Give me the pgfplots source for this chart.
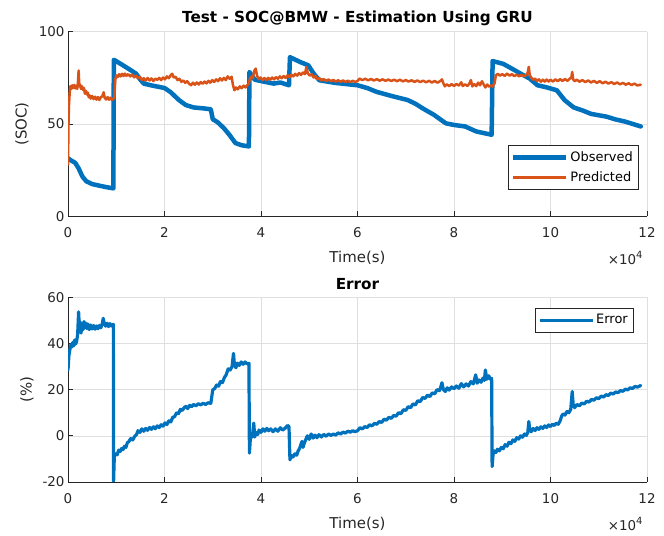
\documentclass[border=0pt]{standalone}
\usepackage{fontspec}
\setmainfont{DejaVu Sans}
\usepackage{pgfplots}
\pgfplotsset{compat=1.18}
\definecolor{mblue}{RGB}{0,114,189}
\definecolor{morange}{RGB}{217,83,25}
\definecolor{axgray}{RGB}{38,38,38}
\definecolor{gridgray}{RGB}{223,223,223}
\pgfplotsset{
  myax/.style={
    width=579bp, height=184.7bp, scale only axis,
    axis x line*=bottom, axis y line*=left,
    xmin=0, xmax=12, xtick={0,2,...,12},
    tick align=inside, major tick length=5bp,
    grid=major, major grid style={gridgray, line width=0.6bp},
    axis line style={axgray, line width=0.7bp},
    every tick/.style={axgray, line width=0.7bp},
    ticklabel style={font=\fontsize{13.5}{13.5}\selectfont, text=axgray},
    xticklabel style={yshift=-8bp},
    /pgf/number format/assume math mode=true,
    xlabel={Time(s)},
    xlabel style={at={(axis description cs:0.5,0)}, anchor=base, yshift=-46bp, font=\fontsize{15}{15}\selectfont, text=axgray},
    ylabel style={anchor=center, font=\fontsize{15}{15}\selectfont, text=axgray},
    title style={at={(axis description cs:0.5,1)}, anchor=base, font=\bfseries\fontsize{15.3}{15.3}\selectfont, text=black},
    legend cell align=left,
    legend style={draw=axgray, line width=0.5bp, fill=white, font=\fontsize{13}{13}\selectfont,
      inner xsep=3bp, inner ysep=2bp,
      nodes={inner xsep=2bp, inner ysep=3.5bp, text height=10bp, text depth=3bp}},
    legend image code/.code={\draw[#1, line cap=butt] (0bp,0bp) -- (53bp,0bp);},
    every axis plot/.append style={line join=round, line cap=round},
    after end axis/.append code={
      \node[anchor=base east, font=\fontsize{13.5}{13.5}\selectfont, text=axgray] at (rel axis cs:1,0) [xshift=-1bp, yshift=-48.6bp] {×10\raisebox{0.45em}{\fontsize{10}{10}\selectfont 4}};
    },
  }
}
\begin{document}
\begin{tikzpicture}
\useasboundingbox (0bp,0bp) rectangle (664bp,536bp);
\begin{axis}[myax, at={(68bp,319.6bp)}, anchor=south west,
  ymin=0, ymax=100, ytick={0,50,100},
  ylabel={(SOC)}, ylabel style={at={(axis description cs:-0.0794,0.5)}},
  title={Test - SOC@BMW - Estimation Using GRU}, title style={yshift=3.7bp},
  legend style={at={(rel axis cs:1,0)}, anchor=south east, xshift=-9bp, yshift=26.4bp}]
\addplot[mblue, line width=4.5bp] coordinates {
(0,31.5)(0.05,30.5)(0.15,29)(0.22,26)(0.3,21.5)(0.38,19)(0.5,17.5)(0.62,16.8)(0.8,15.8)(0.94,15.2)(0.95,84.8)(1.09,82.6)(1.25,80)(1.41,77.3)(1.5,74)(1.57,71.9)(1.75,70.8)(1.89,70.1)(2.0,69.5)(2.12,67.4)(2.3,63)(2.44,60.3)(2.6,59)(2.8,58.5)(2.96,58)(3.0,52.6)(3.1,51)(3.23,47.8)(3.35,44)(3.47,39.7)(3.6,38.5)(3.75,37.9)(3.76,78.2)(3.87,74)(4.05,73)(4.26,71.9)(4.4,72.5)(4.58,71)(4.6,86.2)(4.82,83.5)(4.98,81.8)(5.1,77)(5.21,73.7)(5.53,72.3)(6.0,71)(6.2,69.5)(6.4,67.4)(6.72,65.1)(7.04,63)(7.2,61)(7.35,58.5)(7.59,54.9)(7.83,50.4)(8.0,49.5)(8.23,48.7)(8.46,46)(8.6,45.2)(8.78,44.2)(8.8,84.1)(9.02,82.6)(9.26,79.1)(9.4,77)(9.57,74.6)(9.73,71)(9.9,70)(10.13,68.3)(10.29,63)(10.48,59)(10.65,57.5)(10.84,55.5)(11.16,54)(11.35,52.5)(11.55,51.3)(11.87,48.7)
};
\addlegendentry{Observed}
\addplot[morange, line width=2.5bp] coordinates {
(0,28)(0.01,50)(0.02,60)(0.035,67)(0.05,70.5)(0.07,69)(0.09,71)(0.11,69.5)(0.13,71.2)(0.15,69.3)(0.17,70.8)(0.19,69)(0.205,72)(0.22,79)(0.235,70.5)(0.25,71.5)(0.27,69)(0.29,70.5)(0.31,68.5)(0.33,69.5)(0.35,66.5)(0.37,68)(0.39,66)(0.41,67)(0.43,64.5)(0.45,65.5)(0.47,63.8)(0.5,65.2)(0.53,63.5)(0.56,64.8)(0.59,63.2)(0.62,64.6)(0.65,63)(0.68,64.5)(0.71,65)(0.74,67.2)(0.76,64.2)(0.79,63.3)(0.82,64.6)(0.85,63.2)(0.88,64.3)(0.91,63)(0.94,63.8)(0.96,64)(0.98,74)(1.0,76.4)(1.03,75.4)(1.06,77)(1.09,75.8)(1.12,77.2)(1.15,76)(1.18,77.3)(1.21,76.1)(1.25,77)(1.29,75.8)(1.33,76.8)(1.37,75.3)(1.41,76.2)(1.45,74.8)(1.49,75.6)(1.53,73.8)(1.57,74.8)(1.61,73.5)(1.65,74.9)(1.69,73.6)(1.73,74.7)(1.77,73.3)(1.81,74.6)(1.85,73.9)(1.89,75)(1.93,73.8)(1.97,75.2)(2.01,74.2)(2.05,75.8)(2.09,74.8)(2.13,76.5)(2.16,77.2)(2.19,75.2)(2.23,75.6)(2.27,73.8)(2.31,74.5)(2.35,72.8)(2.39,73.6)(2.43,72.3)(2.47,73.2)(2.51,71.8)(2.55,71)(2.59,72.4)(2.63,71.3)(2.67,72.5)(2.71,71.4)(2.75,72.7)(2.79,71.8)(2.83,73)(2.87,72)(2.91,73.4)(2.95,72.4)(2.99,73.8)(3.03,72.8)(3.07,74.2)(3.11,73.2)(3.15,74.8)(3.19,73.6)(3.23,75)(3.27,73.8)(3.31,75.8)(3.35,74.5)(3.39,75.6)(3.42,71)(3.45,68.3)(3.48,69.8)(3.52,68.8)(3.56,70.4)(3.6,69.4)(3.64,70.8)(3.68,69.8)(3.72,71.2)(3.75,72)(3.77,74.6)(3.8,75.6)(3.83,74.8)(3.86,78.8)(3.89,80)(3.92,76)(3.95,74.4)(3.99,75.2)(4.03,73.8)(4.07,74.9)(4.11,73.9)(4.15,75)(4.19,74)(4.23,75.2)(4.27,74.2)(4.31,75.4)(4.35,74.5)(4.39,75.8)(4.43,74.8)(4.47,76)(4.51,75)(4.55,76.4)(4.59,75.3)(4.63,76.8)(4.67,75.8)(4.71,77.2)(4.75,76.2)(4.79,77.6)(4.83,76.6)(4.87,77.9)(4.91,77)(4.94,80.9)(4.97,77.5)(5.01,76.2)(5.05,77)(5.09,75.2)(5.13,76)(5.17,74.3)(5.21,74.9)(5.25,73.6)(5.3,74.3)(5.35,73.4)(5.4,74.1)(5.45,73.2)(5.5,73.9)(5.55,73)(5.6,73.7)(5.65,72.9)(5.7,73.6)(5.75,72.8)(5.8,73.5)(5.85,72.7)(5.9,73.4)(5.95,72.8)(6.0,73.3)(6.04,74.6)(6.1,73.8)(6.16,74.5)(6.22,73.7)(6.28,74.4)(6.34,73.6)(6.4,74.3)(6.46,73.5)(6.52,74.2)(6.58,73.4)(6.64,74.1)(6.7,73.3)(6.76,74)(6.82,73.2)(6.88,74)(6.94,73.1)(7.0,73.8)(7.06,73)(7.12,73.7)(7.18,72.8)(7.24,73.6)(7.3,72.7)(7.36,73.5)(7.42,72.6)(7.48,73.4)(7.54,72.5)(7.6,73.3)(7.66,72.4)(7.72,73.4)(7.75,74.2)(7.78,72)(7.81,70.4)(7.85,71.5)(7.9,70.6)(7.95,71.6)(8.0,70.6)(8.05,71.7)(8.1,70.8)(8.15,72.6)(8.18,70.6)(8.23,71.5)(8.28,70.6)(8.32,72)(8.35,73.8)(8.38,70.4)(8.42,71.6)(8.46,70.5)(8.5,72.4)(8.54,71)(8.58,73.2)(8.62,71.2)(8.65,69.8)(8.69,71.4)(8.73,70.2)(8.77,71)(8.8,70.3)(8.84,72)(8.87,76.5)(8.91,77.2)(8.95,76.2)(9.0,77)(9.05,76.1)(9.1,77.3)(9.15,76.2)(9.2,77)(9.25,75.9)(9.3,76.8)(9.35,75.8)(9.4,76.7)(9.45,75.9)(9.5,76.6)(9.53,78)(9.55,81)(9.57,76.5)(9.6,75.2)(9.64,74)(9.68,74.6)(9.72,73.3)(9.76,74.2)(9.8,72.9)(9.84,74)(9.88,73)(9.92,74.1)(9.96,73)(10.0,74)(10.05,73)(10.1,74.2)(10.15,73.2)(10.2,74.3)(10.25,73.3)(10.3,74.4)(10.35,73.4)(10.4,74.6)(10.43,75)(10.45,78.2)(10.47,74.2)(10.5,73.2)(10.55,74)(10.6,72.9)(10.66,73.8)(10.72,72.7)(10.78,73.6)(10.84,72.5)(10.9,73.4)(10.96,72.3)(11.02,73.2)(11.08,72.1)(11.14,72.9)(11.2,71.9)(11.26,72.7)(11.32,71.7)(11.38,72.5)(11.44,71.5)(11.5,72.3)(11.56,71.3)(11.62,72.1)(11.68,71.1)(11.74,71.9)(11.8,70.9)(11.87,71.3)
};
\addlegendentry{Predicted}
\end{axis}
\begin{axis}[myax, at={(68bp,54bp)}, anchor=south west,
  ymin=-20, ymax=60, ytick={-20,0,...,60},
  ylabel={(\%)}, ylabel style={at={(axis description cs:-0.0708,0.5)}},
  title={Error}, title style={yshift=1.7bp},
  legend style={at={(rel axis cs:1,1)}, anchor=north east, xshift=-14bp, yshift=-10.7bp}]
\addplot[mblue, line width=3.2bp] coordinates {
(0,28.5)(0.02,35)(0.04,37.5)(0.06,39.5)(0.08,38.5)(0.1,40.5)(0.12,39)(0.14,41.5)(0.16,39.8)(0.18,41)(0.2,44)(0.22,53.7)(0.235,47)(0.25,49.5)(0.27,44.5)(0.29,48.5)(0.31,46)(0.33,49.5)(0.35,46.8)(0.37,48.8)(0.39,46.5)(0.41,48.5)(0.44,46)(0.47,48)(0.5,46.3)(0.53,47.8)(0.56,46.2)(0.59,47.6)(0.62,46.4)(0.65,47.8)(0.68,46.8)(0.71,48.5)(0.73,50.9)(0.75,48.8)(0.78,47.5)(0.81,48.8)(0.84,47.3)(0.87,48.6)(0.9,47.6)(0.94,48.3)(0.945,-19.7)(0.96,-9)(0.99,-7.8)(1.02,-8.2)(1.05,-6.2)(1.08,-6.8)(1.11,-5.5)(1.14,-6)(1.17,-4.5)(1.2,-5)(1.23,-3)(1.26,-2.5)(1.3,-1.2)(1.34,-1.8)(1.38,-0.3)(1.42,0.5)(1.45,2.2)(1.49,1.5)(1.53,3)(1.57,2)(1.61,3.2)(1.65,2.4)(1.69,3.6)(1.73,2.8)(1.77,3.9)(1.81,3.1)(1.85,4.3)(1.89,3.6)(1.93,4.8)(1.97,4.2)(2.01,5.6)(2.05,4.9)(2.09,6.5)(2.13,6)(2.17,8)(2.21,8.3)(2.25,10)(2.29,9.6)(2.33,11.5)(2.37,11)(2.41,12.3)(2.45,12.8)(2.48,11.8)(2.52,13.2)(2.56,12.6)(2.6,13.6)(2.65,13)(2.7,13.9)(2.75,13.4)(2.8,14.1)(2.85,13.6)(2.9,14.3)(2.96,14.1)(3.0,19.9)(3.04,20.5)(3.08,22)(3.12,21.5)(3.16,23.5)(3.2,23)(3.24,25.2)(3.28,26.5)(3.32,29)(3.36,28.5)(3.4,30)(3.43,35.7)(3.45,30.5)(3.48,29.5)(3.51,31.5)(3.55,30.5)(3.59,32)(3.63,31)(3.67,32)(3.71,31.2)(3.75,31.4)(3.76,-7.5)(3.78,-1)(3.8,0.5)(3.82,-0.5)(3.85,5.5)(3.87,-0.5)(3.9,1.5)(3.93,0.5)(3.96,2.5)(4.0,1.5)(4.04,3)(4.08,2)(4.12,3.2)(4.16,2.2)(4.2,3)(4.25,1.8)(4.3,3)(4.35,2)(4.4,3.5)(4.45,2.5)(4.5,3.3)(4.55,4.5)(4.58,4)(4.6,-10.4)(4.63,-8.5)(4.66,-9.2)(4.7,-7.8)(4.74,-8.4)(4.77,-6.5)(4.8,-5.5)(4.83,-3.5)(4.85,-2.4)(4.87,-5)(4.9,-3)(4.93,-1.5)(4.96,0)(5.0,-1.5)(5.04,0.8)(5.08,-1)(5.12,0.3)(5.16,-0.8)(5.2,0.5)(5.25,-0.5)(5.3,0.6)(5.35,-0.2)(5.4,0.8)(5.45,0.2)(5.5,0.8)(5.55,0.3)(5.6,1.3)(5.65,0.8)(5.7,1.6)(5.75,1.2)(5.8,2)(5.85,1.6)(5.9,2.2)(5.95,1.8)(6.0,2.2)(6.05,3.5)(6.1,3)(6.15,4)(6.2,3.6)(6.25,4.8)(6.3,4.3)(6.35,5.4)(6.4,5)(6.45,6.2)(6.5,5.8)(6.55,7.2)(6.6,6.8)(6.65,8)(6.7,7.6)(6.75,8.8)(6.8,8.5)(6.85,10)(6.9,9.6)(6.95,11.3)(7.0,11)(7.05,12.6)(7.1,12.2)(7.15,13.8)(7.2,13.4)(7.25,15.2)(7.3,14.8)(7.35,16.6)(7.4,16.2)(7.45,17.6)(7.5,17)(7.55,18.6)(7.6,18.2)(7.65,20)(7.7,19.6)(7.73,21.5)(7.75,23)(7.78,20)(7.82,19.2)(7.86,20.8)(7.9,19.8)(7.95,21.2)(8.0,20.4)(8.05,21.6)(8.1,20.6)(8.15,22.6)(8.2,21.2)(8.25,22.5)(8.3,21.6)(8.35,23.5)(8.4,22.5)(8.45,26.4)(8.48,22.8)(8.52,24.2)(8.56,23.2)(8.6,25)(8.63,24)(8.65,28.5)(8.68,24.5)(8.72,26)(8.75,24.6)(8.78,24.9)(8.79,-13.3)(8.81,-8)(8.84,-6.5)(8.87,-7.2)(8.9,-5.8)(8.94,-6.5)(8.98,-5)(9.02,-5.6)(9.06,-3.8)(9.1,-4.5)(9.14,-2.8)(9.18,-3.4)(9.22,-1.8)(9.26,-2.4)(9.3,-0.8)(9.34,-1.4)(9.38,0)(9.42,-0.6)(9.46,0.8)(9.5,0.2)(9.53,1.5)(9.55,6.2)(9.57,2.5)(9.6,1.8)(9.64,3.2)(9.68,2.3)(9.72,3.5)(9.76,2.8)(9.8,3.9)(9.84,3.2)(9.88,4.3)(9.92,3.6)(9.96,4.7)(10.0,4)(10.04,5)(10.08,4.5)(10.12,5.5)(10.16,5)(10.2,6.5)(10.23,8.5)(10.26,9.5)(10.3,9)(10.34,10.5)(10.38,10)(10.42,11.5)(10.45,19.2)(10.47,13.5)(10.5,12.2)(10.55,13.6)(10.6,13)(10.65,14.2)(10.7,13.8)(10.75,15)(10.8,14.6)(10.85,15.8)(10.9,15.4)(10.95,16.5)(11.0,16.1)(11.05,17.2)(11.1,16.8)(11.15,17.8)(11.2,17.5)(11.25,18.5)(11.3,18.1)(11.35,19)(11.4,18.7)(11.45,19.6)(11.5,19.3)(11.55,20.2)(11.6,19.9)(11.65,20.8)(11.7,20.5)(11.75,21.4)(11.8,21.1)(11.87,21.8)
};
\addlegendentry{Error}
\end{axis}
\end{tikzpicture}
\end{document}
